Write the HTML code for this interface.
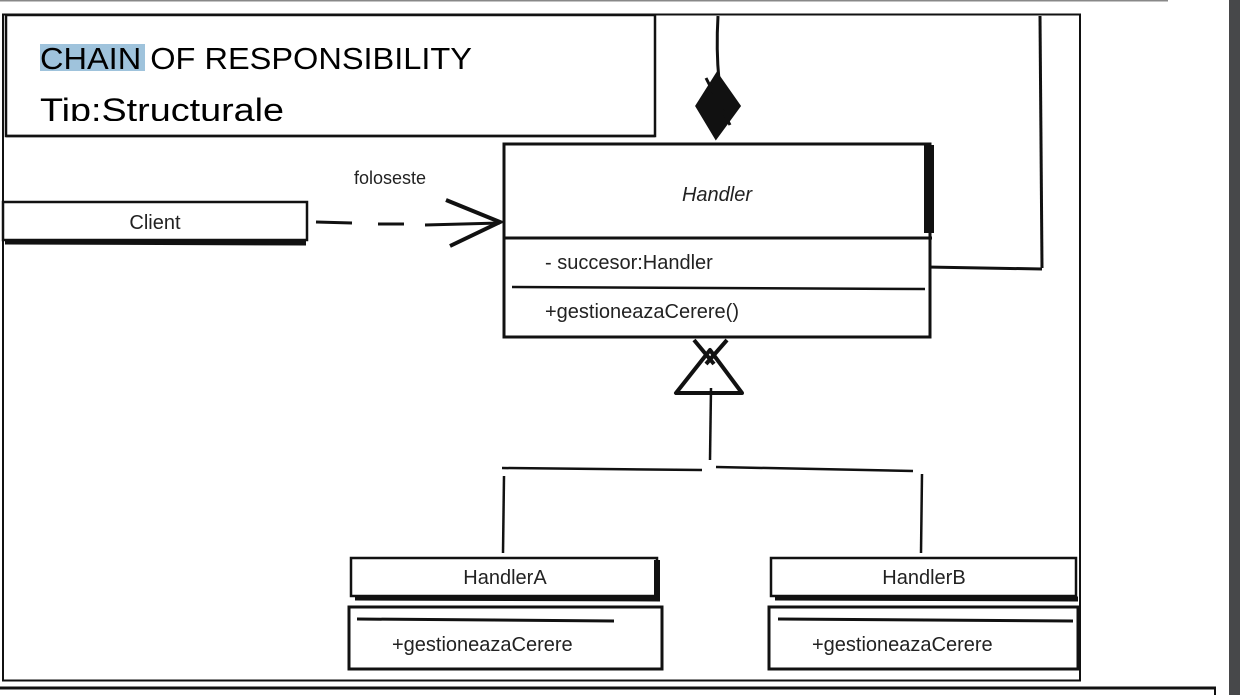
<!DOCTYPE html>
<html><head><meta charset="utf-8"><style>
html,body{margin:0;padding:0;background:#fff;width:1240px;height:695px;overflow:hidden}
svg{display:block}
text{font-family:"Liberation Sans",sans-serif}
</style></head><body>
<svg width="1240" height="695" viewBox="0 0 1240 695" xmlns="http://www.w3.org/2000/svg">
<rect x="0" y="0" width="1240" height="695" fill="#fff"/>
<line x1="0" y1="0.5" x2="1168" y2="0.5" stroke="#888" stroke-width="2"/>
<rect x="1229" y="0" width="11" height="695" fill="#47484a"/>
<line x1="0" y1="688" x2="1216" y2="688" stroke="#111" stroke-width="3"/>
<line x1="1215" y1="688" x2="1215" y2="695" stroke="#111" stroke-width="2"/>
<rect x="3" y="14.5" width="1077" height="666" fill="none" stroke="#111" stroke-width="2"/>
<defs><clipPath id="c1"><rect x="0" y="0" width="700" height="121"/></clipPath></defs>
<rect x="6" y="15" width="649" height="121" fill="#fff" stroke="#111" stroke-width="2.5"/>
<rect x="40" y="44" width="105" height="27" fill="#9fc3dc"/>
<text x="40" y="69" font-size="31" textLength="432" lengthAdjust="spacingAndGlyphs" fill="#000">CHAIN OF RESPONSIBILITY</text>
<text x="40" y="121" font-size="32" textLength="244" lengthAdjust="spacingAndGlyphs" fill="#000" clip-path="url(#c1)">Tip:Structurale</text>
<line x1="6" y1="136" x2="655" y2="136" stroke="#111" stroke-width="2.5"/>
<path d="M718 16 Q716 50 719 80" stroke="#111" stroke-width="3" fill="none"/>
<path d="M717 76 L698 106 L716 136 L738 106 Z" fill="#111" stroke="#111" stroke-width="5"/>
<line x1="706" y1="78" x2="730" y2="125" stroke="#111" stroke-width="3"/>
<line x1="1040" y1="16" x2="1042" y2="268" stroke="#111" stroke-width="3"/>
<line x1="926" y1="267" x2="1042" y2="269" stroke="#111" stroke-width="3"/>
<rect x="504" y="144" width="426" height="193" fill="#fff" stroke="#111" stroke-width="3"/>
<rect x="924" y="145" width="10" height="88" fill="#111"/>
<line x1="504" y1="238" x2="932" y2="238" stroke="#111" stroke-width="3"/>
<line x1="512" y1="287" x2="925" y2="289" stroke="#111" stroke-width="2.5"/>
<text x="717" y="201" font-size="20" font-style="italic" text-anchor="middle" fill="#222">Handler</text>
<text x="545" y="269" font-size="20" fill="#222">- succesor:Handler</text>
<text x="545" y="318" font-size="20" fill="#222">+gestioneazaCerere()</text>
<rect x="3" y="202" width="304" height="38" fill="#fff" stroke="#111" stroke-width="2.5"/>
<line x1="5" y1="242" x2="306" y2="243" stroke="#111" stroke-width="5"/>
<text x="155" y="229" font-size="20" text-anchor="middle" fill="#222">Client</text>
<text x="390" y="184" font-size="18" text-anchor="middle" fill="#222">foloseste</text>
<line x1="316" y1="222" x2="352" y2="223" stroke="#111" stroke-width="3"/>
<line x1="378" y1="224" x2="404" y2="224" stroke="#111" stroke-width="3"/>
<line x1="425" y1="225" x2="500" y2="223" stroke="#111" stroke-width="3"/>
<path d="M446 200 L500 222 L450 246" stroke="#111" stroke-width="4" fill="none"/>
<path d="M710 350 L676 393 L742 393 Z" stroke="#111" stroke-width="4" fill="#fff" stroke-linejoin="round"/>
<path d="M694 340 L714 364 M727 340 L706 364" stroke="#111" stroke-width="4" fill="none"/>
<line x1="711" y1="388" x2="710" y2="460" stroke="#111" stroke-width="2.5"/>
<line x1="502" y1="468" x2="702" y2="470" stroke="#111" stroke-width="2.5"/>
<line x1="716" y1="467" x2="913" y2="471" stroke="#111" stroke-width="2.5"/>
<line x1="504" y1="476" x2="503" y2="553" stroke="#111" stroke-width="2.5"/>
<line x1="922" y1="474" x2="921" y2="553" stroke="#111" stroke-width="2.5"/>
<rect x="351" y="558" width="306" height="38" fill="#fff" stroke="#111" stroke-width="2.5"/>
<line x1="355" y1="598" x2="660" y2="599" stroke="#111" stroke-width="5"/>
<rect x="654" y="560" width="6" height="38" fill="#111"/>
<text x="505" y="584" font-size="20" text-anchor="middle" fill="#222">HandlerA</text>
<rect x="349" y="607" width="313" height="62" fill="#fff" stroke="#111" stroke-width="3"/>
<line x1="357" y1="619" x2="614" y2="621" stroke="#111" stroke-width="3"/>
<text x="392" y="651" font-size="20" fill="#222">+gestioneazaCerere</text>
<rect x="771" y="558" width="305" height="38" fill="#fff" stroke="#111" stroke-width="2.5"/>
<line x1="775" y1="598" x2="1078" y2="599" stroke="#111" stroke-width="5"/>
<text x="924" y="584" font-size="20" text-anchor="middle" fill="#222">HandlerB</text>
<rect x="769" y="607" width="309" height="62" fill="#fff" stroke="#111" stroke-width="3"/>
<line x1="778" y1="619" x2="1073" y2="621" stroke="#111" stroke-width="3"/>
<text x="812" y="651" font-size="20" fill="#222">+gestioneazaCerere</text>
</svg>
</body></html>
